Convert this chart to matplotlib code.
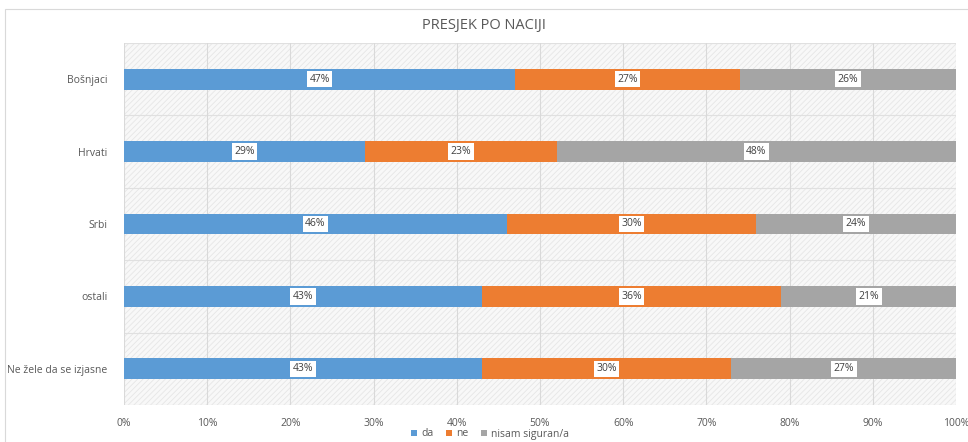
import numpy as np
import matplotlib
matplotlib.use("Agg")
from matplotlib import pyplot as plt
from matplotlib.patches import Rectangle

plt.rcParams["font.family"] = ["Open Sans", "DejaVu Sans"]
plt.rcParams["hatch.color"] = "#e4e4e4"
plt.rcParams["hatch.linewidth"] = 0.6

categories = ["Bošnjaci", "Hrvati", "Srbi", "ostali", "Ne žele da se izjasne"]
da = [47, 29, 46, 43, 43]
ne = [27, 23, 30, 36, 30]
nisam = [26, 48, 24, 21, 27]
series_names = ["da", "ne", "nisam siguran/a"]
colors = ["#5b9bd5", "#ed7d31", "#a5a5a5"]

fig = plt.figure(figsize=(9.68, 4.42), dpi=100)
fig.patch.set_facecolor("white")

# chart frame
fig.add_artist(Rectangle((5 / 968, -0.1), 1.0, 1 - 9 / 442 + 0.1,
                         transform=fig.transFigure, fill=False,
                         edgecolor="#d9d9d9", linewidth=0.8))

ax = fig.add_axes([124 / 968, 1 - 405 / 442, (956 - 124) / 968, (405 - 43) / 442])
ax.set_facecolor("#fafafa")
ax.add_patch(Rectangle((0, 0), 1, 1, transform=ax.transAxes, facecolor="#f8f8f8",
                       hatch="//////", edgecolor="#e6e6e6", linewidth=0, zorder=0))

y = np.arange(len(categories))
left = np.zeros(len(categories))
for vals, name, col in zip([da, ne, nisam], series_names, colors):
    vals = np.array(vals, dtype=float)
    ax.barh(y, vals, left=left, height=0.29, color=col, label=name, zorder=3)
    for yi, l, v in zip(y, left, vals):
        ax.text(l + v / 2, yi, f"{int(v)}%", ha="center", va="center",
                fontsize=7.5, color="#404040", zorder=4,
                bbox=dict(boxstyle="square,pad=0.25", facecolor="white", edgecolor="none"))
    left += vals

ax.set_xlim(0, 100)
ax.set_ylim(len(categories) - 0.5, -0.5)
ax.set_xticks(np.arange(0, 101, 10))
ax.set_xticklabels([f"{t}%" for t in range(0, 101, 10)])
ax.set_yticks(y)
ax.set_yticklabels(categories)
ax.grid(axis="x", color="#d9d9d9", linewidth=0.8, zorder=1)
for b in np.arange(-0.5, len(categories), 1.0):
    ax.axhline(b, color="#e0e0e0", linewidth=0.8, zorder=1)
for s in ax.spines.values():
    s.set_visible(False)
ax.tick_params(axis="both", length=0, labelsize=7.5, labelcolor="#595959")
ax.tick_params(axis="x", pad=9)
ax.tick_params(axis="y", pad=12)

fig.text(0.5, 1 - 25 / 442, "PRESJEK PO NACIJI", ha="center", va="center",
         fontsize=10.5, color="#595959")

handles, labels = ax.get_legend_handles_labels()
fig.legend(handles, labels, loc="center", bbox_to_anchor=(490 / 968, 1 - 434 / 442),
           ncol=3, frameon=False, fontsize=7.5, handlelength=0.6, handleheight=0.6,
           handletextpad=0.4, columnspacing=1.2, labelcolor="#595959",
           borderpad=0, borderaxespad=0)

fig.savefig("out.png", dpi=100, facecolor="white")
